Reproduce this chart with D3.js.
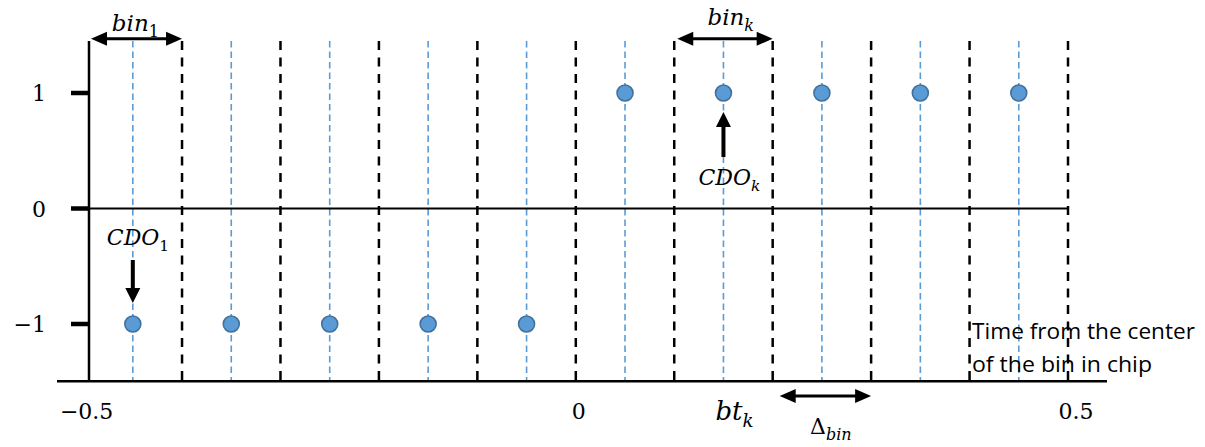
<!DOCTYPE html>
<html>
<head>
<meta charset="utf-8">
<script src="https://cdn.jsdelivr.net/npm/d3@7"></script>
<style>
  html, body { margin: 0; padding: 0; background: #fff; }
  svg { display: block; }
</style>
</head>
<body>
<svg id="chart" width="1205" height="447"></svg>
<script>
// ---------- data ----------
const binEdges   = [-0.4, -0.3, -0.2, -0.1, 0, 0.1, 0.2, 0.3, 0.4, 0.5];
const binCenters = [-0.45, -0.35, -0.25, -0.15, -0.05, 0.05, 0.15, 0.25, 0.35, 0.45];
const cdoValues  = [-1, -1, -1, -1, -1, 1, 1, 1, 1, 1];
const xTickValues = [-0.5, 0, 0.5];
const xTickLabels = ["\u22120.5", "0", "0.5"];
const yTickValues = [1, 0, -1];
const yTickLabels = ["1", "0", "\u22121"];
const axisTitleLines = ["Time from the center", "of the bin in chip"];

// ---------- scales ----------
const svg = d3.select("#chart");
const x = d3.scaleLinear().domain([-0.5, 0.5]).range([83.6, 1068]);
const y = d3.scaleLinear().domain([-1, 1]).range([324, 93]);
const yTop = y(1.45), yBot = y(-1.495);
const axisX = 89;

const numFont = "DejaVu Serif";
const mathFont = "DejaVu Serif";
const blue = "#5b9bd5", blueStroke = "#41719c";

// arrow helper
function arrow(g, x1, y1, x2, y2, both, w, hl, hw) {
  const dx = x2 - x1, dy = y2 - y1, L = Math.hypot(dx, dy);
  const ux = dx / L, uy = dy / L, px = -uy, py = ux;
  const sx1 = both ? x1 + ux * hl * 0.8 : x1, sy1 = both ? y1 + uy * hl * 0.8 : y1;
  const sx2 = x2 - ux * hl * 0.8, sy2 = y2 - uy * hl * 0.8;
  g.append("line").attr("x1", sx1).attr("y1", sy1).attr("x2", sx2).attr("y2", sy2)
    .attr("stroke", "#000").attr("stroke-width", w);
  const head = (tx, ty, dirx, diry) => {
    const bx = tx - dirx * hl, by = ty - diry * hl;
    g.append("path")
      .attr("d", `M${tx},${ty}L${bx + px * hw},${by + py * hw}L${bx - px * hw},${by - py * hw}Z`)
      .attr("fill", "#000");
  };
  head(x2, y2, ux, uy);
  if (both) head(x1, y1, -ux, -uy);
}

// ---------- centre lines (blue dashed) ----------
svg.append("g").selectAll("line").data(binCenters).join("line")
  .attr("x1", d => x(d)).attr("x2", d => x(d))
  .attr("y1", yTop).attr("y2", yBot)
  .attr("stroke", blue).attr("stroke-width", 1.6)
  .attr("stroke-dasharray", "6.5,4");

// ---------- bin edges (black dashed) ----------
svg.append("g").selectAll("line").data(binEdges).join("line")
  .attr("x1", d => x(d)).attr("x2", d => x(d))
  .attr("y1", yTop).attr("y2", yBot)
  .attr("stroke", "#000").attr("stroke-width", 2.5)
  .attr("stroke-dasharray", "9,7.5");

// ---------- zero line ----------
svg.append("line").attr("x1", axisX).attr("x2", x(0.5))
  .attr("y1", y(0)).attr("y2", y(0))
  .attr("stroke", "#000").attr("stroke-width", 2);

// ---------- axes ----------
svg.append("line").attr("x1", axisX).attr("x2", axisX)
  .attr("y1", yTop).attr("y2", yBot)
  .attr("stroke", "#000").attr("stroke-width", 2.5);
svg.append("line").attr("x1", 57).attr("x2", 1107)
  .attr("y1", yBot).attr("y2", yBot)
  .attr("stroke", "#000").attr("stroke-width", 2.5);

// y ticks
svg.append("g").selectAll("line").data(yTickValues).join("line")
  .attr("x1", 71).attr("x2", axisX)
  .attr("y1", d => y(d)).attr("y2", d => y(d))
  .attr("stroke", "#000").attr("stroke-width", 4.5);
svg.append("g").selectAll("text").data(yTickValues).join("text")
  .attr("x", 46).attr("y", d => y(d) + 8)
  .attr("text-anchor", "end")
  .style("font-family", numFont).attr("font-size", 22)
  .text((d, i) => yTickLabels[i]);

// x tick labels
svg.append("g").selectAll("text").data(xTickValues).join("text")
  .attr("x", (d, i) => x(d) + [3, 3, 8][i]).attr("y", 419)
  .attr("text-anchor", "middle")
  .style("font-family", numFont).attr("font-size", 22)
  .text((d, i) => xTickLabels[i]);

// ---------- points ----------
svg.append("g").selectAll("circle").data(binCenters).join("circle")
  .attr("cx", d => x(d)).attr("cy", (d, i) => y(cdoValues[i]))
  .attr("r", 8).attr("fill", blue)
  .attr("stroke", blueStroke).attr("stroke-width", 1.6);

// ---------- annotations ----------
const ann = svg.append("g");
function mathLabel(px, py, base, sub, size, subItalic) {
  const t = ann.append("text").attr("x", px).attr("y", py)
    .style("font-family", mathFont).attr("font-size", size);
  t.append("tspan").attr("font-style", "italic").text(base);
  t.append("tspan").attr("font-style", subItalic ? "italic" : "normal")
    .attr("font-size", size * 0.7).attr("dy", size * 0.25).text(sub);
  return t;
}
// bin_1
arrow(ann, axisX + 2, y(1.47), x(-0.4), y(1.47), true, 3, 16, 7);
mathLabel(x(-0.45) - 21, 31, "bin", "1", 23, false);
// bin_k
arrow(ann, x(0.1) + 3, y(1.47), x(0.2), y(1.47), true, 3, 16, 7);
mathLabel(x(0.15) - 16, 25, "bin", "k", 23, true);
// CDO_k
arrow(ann, x(0.15), 157, x(0.15), 112, false, 4, 15, 7.5);
mathLabel(x(0.15) - 25, 185, "CDO", "k", 22, true);
// CDO_1
arrow(ann, x(-0.45), 260, x(-0.45), 303, false, 4, 15, 7.5);
mathLabel(x(-0.45) - 26, 245, "CDO", "1", 22, false);
// bt_k
mathLabel(x(0.15) - 8, 420, "bt", "k", 26, true);
// Delta_bin
{
  arrow(ann, x(0.2) + 7, 396, x(0.3), 396, true, 3, 16, 7);
  const t = ann.append("text").attr("x", 810).attr("y", 434)
    .style("font-family", mathFont).attr("font-size", 22);
  t.append("tspan").text("\u0394");
  t.append("tspan").attr("font-style", "italic").attr("font-size", 16).attr("dy", 6).text("bin");
}

// axis title
svg.append("g").selectAll("text").data(axisTitleLines).join("text")
  .attr("x", 972).attr("y", (d, i) => 339 + i * 33)
  .style("font-family", "Open Sans").attr("font-size", 21)
  .attr("textLength", (d, i) => [223, 180][i]).attr("lengthAdjust", "spacingAndGlyphs")
  .text(d => d);
</script>
</body>
</html>
